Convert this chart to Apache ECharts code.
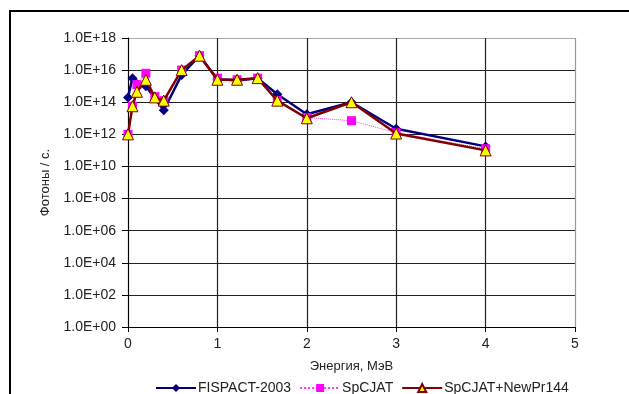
<!DOCTYPE html>
<html>
<head>
<meta charset="utf-8">
<script src="https://cdn.jsdelivr.net/npm/echarts@6/dist/echarts.min.js"></script>
<style>
html, body { margin: 0; padding: 0; background: #fff; overflow: hidden; }
#frame { position: absolute; left: 9px; top: 10px; width: 700px; height: 500px; border: 2px solid #000; }
#chart { position: absolute; left: 0; top: 0; width: 629px; height: 394px; }
</style>
</head>
<body>
<div id="frame"></div>
<div id="chart"></div>
<script>
// energies, MeV
const energyFispact = [0, 0.05, 0.2, 0.4, 0.6, 0.8, 1.0, 1.22, 1.45, 1.67, 2.0, 2.5, 3.0, 4.0];
const energySp = [0, 0.05, 0.1, 0.2, 0.3, 0.4, 0.6, 0.8, 1.0, 1.22, 1.45, 1.67, 2.0, 2.5, 3.0, 4.0];

// photons per second, read as powers of ten
const expFispact = [14.3, 15.5, 15.0, 13.5, 15.7, 16.9, 15.45, 15.35, 15.5, 14.5, 13.25, 14.0, 12.35, 11.25];
const expSpcjat = [12.0, 13.75, 15.1, 15.8, 14.35, 14.1, 16.0, 16.9, 15.5, 15.4, 15.5, 14.1, 13.05, 12.85, 12.1, 11.1];
const expNewPr = [12.0, 13.75, 14.65, 15.4, 14.3, 14.1, 16.0, 16.9, 15.4, 15.4, 15.5, 14.1, 13.0, 14.0, 12.05, 11.0];

const seriesNames = ['FISPACT-2003', 'SpCJAT', 'SpCJAT+NewPr144'];
const xTicks = [0, 1, 2, 3, 4, 5];

function pairs(xs, es) {
    return xs.map((x, i) => [x, Math.pow(10, es[i])]);
}

let chart = echarts.init(document.getElementById('chart'));
const font = 'Liberation Sans, Arial, sans-serif';
chart.setOption({
    animation: false,
    textStyle: { fontFamily: font },
    grid: { left: 128, right: 54, top: 38, bottom: 67 },
    legend: {
        top: 376,
        left: 150,
        itemWidth: 40,
        itemHeight: 10,
        itemGap: 8,
        textStyle: { fontSize: 14, color: '#222', fontFamily: font, padding: [0, 0, 0, -3] },
        data: seriesNames
    },
    xAxis: {
        type: 'value',
        min: xTicks[0],
        max: xTicks[xTicks.length - 1],
        interval: 1,
        name: 'Энергия, МэВ',
        nameLocation: 'middle',
        nameGap: 33,
        nameTextStyle: { fontSize: 13, color: '#222' },
        axisLine: { lineStyle: { color: '#000', width: 1 } },
        axisTick: { inside: false, length: 5, lineStyle: { color: '#000' } },
        axisLabel: { fontSize: 14, color: '#222', margin: 10 },
        splitLine: { show: true, lineStyle: { color: ['#222', '#222', '#222', '#222', '#222', '#999'], width: 1.2 } }
    },
    yAxis: {
        type: 'log',
        logBase: 10,
        min: 1,
        max: 1e18,
        interval: 2,
        splitNumber: 9,
        name: 'Фотоны / с.',
        nameLocation: 'middle',
        nameGap: 76,
        nameTextStyle: { fontSize: 13, color: '#222' },
        axisLine: { show: true, lineStyle: { color: '#000', width: 1 } },
        axisTick: { show: true, inside: false, length: 6, lineStyle: { color: '#000' } },
        axisLabel: {
            fontSize: 14, color: '#222', margin: 12,
            formatter: v => {
                let e = Math.round(Math.log10(v));
                return '1.0E+' + (e < 10 ? '0' + e : e);
            }
        },
        splitLine: { show: true, lineStyle: { color: ['#222', '#222', '#222', '#222', '#222', '#222', '#222', '#222', '#222', '#aaa'], width: 1.2 } }
    },
    series: [
        {
            name: seriesNames[0],
            type: 'line',
            data: pairs(energyFispact, expFispact),
            symbol: 'diamond',
            symbolSize: 10,
            lineStyle: { color: '#000080', width: 2.5 },
            itemStyle: { color: '#000080' },
            z: 2
        },
        {
            name: seriesNames[1],
            type: 'line',
            data: pairs(energySp, expSpcjat),
            symbol: 'rect',
            symbolSize: 9,
            lineStyle: { color: '#ff33ff', width: 1, type: 'dotted' },
            itemStyle: { color: '#ff00ff' },
            z: 3
        },
        {
            name: seriesNames[2],
            type: 'line',
            data: pairs(energySp, expNewPr),
            symbol: 'triangle',
            symbolSize: 11,
            lineStyle: { color: '#800000', width: 2.5 },
            itemStyle: { color: '#ffff00', borderColor: '#800000', borderWidth: 1 },
            z: 4
        }
    ]
});
</script>
</body>
</html>
